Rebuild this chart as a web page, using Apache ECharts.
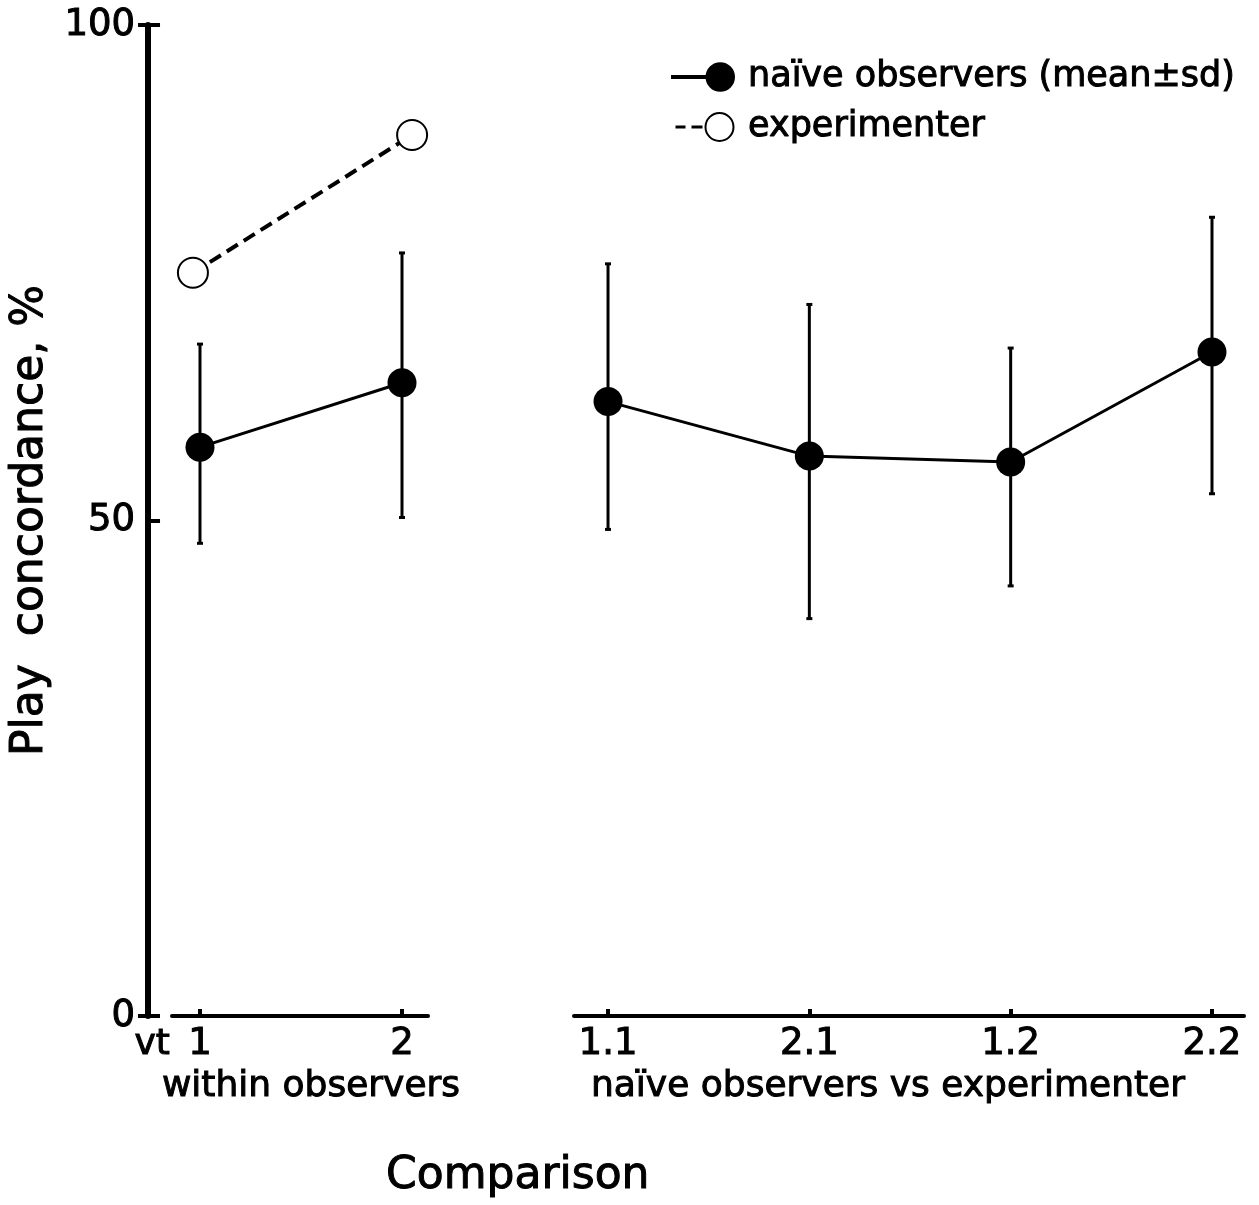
<!DOCTYPE html>
<html>
<head>
<meta charset="utf-8">
<script src="https://cdn.jsdelivr.net/npm/echarts@6/dist/echarts.min.js"></script>
<style>
html,body{margin:0;padding:0;background:#fff;}
#chart{width:1259px;height:1205px;}
</style>
</head>
<body>
<div id="chart"></div>
<script>
// ---- data ----
const yTicks = [0, 50, 100];
const withinLabels = ['1', '2'];
const withinX = [1, 2];
const withinMean = [57.4, 63.9];
const withinHi = [67.8, 77.0];
const withinLo = [47.7, 50.3];
const expX = [0.965, 2.05];
const expVal = [75.0, 88.9];
const vsLabels = ['1.1', '2.1', '1.2', '2.2'];
const vsX = [1, 2, 3, 4];
const vsMean = [62.0, 56.5, 55.9, 67.0];
const vsHi = [75.9, 71.8, 67.4, 80.6];
const vsLo = [49.1, 40.1, 43.4, 52.7];

const NAIVE = 'naïve observers (mean±sd)';
const EXP = 'experimenter';
const FONT = 'DejaVu Sans';
const HEAVY = {textBorderColor: '#000', textBorderWidth: 1};

const chart = echarts.init(document.getElementById('chart'), null, {renderer: 'canvas'});

function errData(xs, lo, hi) { return xs.map((x, i) => [x, lo[i], hi[i]]); }
function pairs(xs, ys) { return xs.map((x, i) => [x, ys[i]]); }

function errRender(params, api) {
  const x = api.value(0);
  const lo = api.coord([x, api.value(1)]);
  const hi = api.coord([x, api.value(2)]);
  const st = {stroke: '#000', lineWidth: 3};
  const c = 3;
  return {type: 'group', children: [
    {type: 'line', shape: {x1: lo[0], y1: lo[1], x2: hi[0], y2: hi[1]}, style: st},
    {type: 'line', shape: {x1: lo[0] - c, y1: lo[1], x2: lo[0] + c, y2: lo[1]}, style: st},
    {type: 'line', shape: {x1: hi[0] - c, y1: hi[1], x2: hi[0] + c, y2: hi[1]}, style: st}
  ]};
}

const iconNaive = 'path://M0 13 L38 13 L38 17 L0 17 Z M34 15 A14.5 14.5 0 1 1 63 15 A14.5 14.5 0 1 1 34 15 Z';
const iconExp = 'path://M4 13.5 L14 13.5 L14 16.5 L4 16.5 Z M20 13.5 L31 13.5 L31 16.5 L20 16.5 Z M33 15 A15 15 0 1 1 63 15 A15 15 0 1 1 33 15 Z M35 15 A13 13 0 1 0 61 15 A13 13 0 1 0 35 15 Z M0 0 L0.01 0 L0.01 0.01 Z';

const xLabelStyle = Object.assign({fontFamily: FONT, fontSize: 37, color: '#000', margin: 10}, HEAVY);

const option = {
  backgroundColor: '#fff',
  animation: false,
  title: {
    text: 'Comparison', left: 381, top: 1150,
    textStyle: Object.assign({fontFamily: FONT, fontSize: 44, fontWeight: 'normal', color: '#000'}, HEAVY)
  },
  legend: {
    orient: 'vertical', left: 666, top: 54,
    itemWidth: 64, itemHeight: 30, itemGap: 14,
    textStyle: Object.assign({fontFamily: FONT, fontSize: 35, color: '#000', padding: [0, 0, 0, 8]}, HEAVY),
    data: [
      {name: NAIVE, icon: iconNaive, itemStyle: {color: '#000', borderWidth: 0}},
      {name: EXP, icon: iconExp, itemStyle: {color: '#000', borderWidth: 0}}
    ]
  },
  graphic: [
    {type: 'text', left: 134, top: 1026,
     style: {text: 'vt', font: '36px "DejaVu Sans"', fill: '#000', stroke: '#000', lineWidth: 1}}
  ],
  grid: [
    {left: 147, right: 15, top: 25, bottom: 189},
    {left: 172, width: 256, top: 25, bottom: 189},
    {left: 574, width: 670, top: 25, bottom: 189}
  ],
  xAxis: [
    {gridIndex: 0, type: 'value', show: false, min: 0, max: 1},
    {gridIndex: 1, type: 'value', min: 0.8614, max: 2.1287,
     axisLine: {lineStyle: {color: '#000', width: 4}},
     axisTick: {inside: true, length: 7, lineStyle: {color: '#000', width: 4}, customValues: withinX},
     axisLabel: Object.assign({customValues: withinX, formatter: v => withinLabels[withinX.indexOf(v)]}, xLabelStyle),
     splitLine: {show: false},
     name: 'within observers', nameLocation: 'middle', nameGap: 46,
     nameTextStyle: Object.assign({fontFamily: FONT, fontSize: 36, color: '#000', padding: [0, 0, 0, 22]}, HEAVY)},
    {gridIndex: 2, type: 'value', min: 0.831, max: 4.159,
     axisLine: {lineStyle: {color: '#000', width: 4}},
     axisTick: {inside: true, length: 7, lineStyle: {color: '#000', width: 4}, customValues: vsX},
     axisLabel: Object.assign({customValues: vsX, formatter: v => vsLabels[vsX.indexOf(v)]}, xLabelStyle),
     splitLine: {show: false},
     name: 'naïve observers vs experimenter', nameLocation: 'middle', nameGap: 46,
     nameTextStyle: Object.assign({fontFamily: FONT, fontSize: 36, color: '#000', padding: [0, 42, 0, 0]}, HEAVY)}
  ],
  yAxis: [
    {gridIndex: 0, type: 'value', min: 0, max: 100, position: 'left', offset: 0,
     axisLine: {show: true, lineStyle: {color: '#000', width: 6}},
     axisTick: {show: true, inside: true, length: 12, lineStyle: {color: '#000', width: 4}, customValues: yTicks},
     axisLabel: Object.assign({customValues: yTicks, fontFamily: FONT, fontSize: 37, color: '#000', margin: 13}, HEAVY),
     splitLine: {show: false},
     name: 'Play  concordance, %', nameLocation: 'middle', nameGap: 94, nameRotate: 90,
     nameTextStyle: Object.assign({fontFamily: FONT, fontSize: 44, color: '#000'}, HEAVY)},
    {gridIndex: 0, type: 'value', min: 0, max: 100, position: 'left', offset: 0,
     axisLine: {show: false},
     axisTick: {show: true, inside: false, length: 10, lineStyle: {color: '#000', width: 4}, customValues: [yTicks[0], yTicks[2]]},
     axisLabel: {show: false}, splitLine: {show: false}},
    {gridIndex: 1, type: 'value', min: 0, max: 100, show: false},
    {gridIndex: 2, type: 'value', min: 0, max: 100, show: false}
  ],
  series: [
    {type: 'custom', name: 'sd-within', xAxisIndex: 1, yAxisIndex: 2, renderItem: errRender,
     data: errData(withinX, withinLo, withinHi), z: 2, silent: true},
    {type: 'custom', name: 'sd-vs', xAxisIndex: 2, yAxisIndex: 3, renderItem: errRender,
     data: errData(vsX, vsLo, vsHi), z: 2, silent: true},
    {type: 'line', name: NAIVE, xAxisIndex: 1, yAxisIndex: 2, data: pairs(withinX, withinMean),
     symbol: 'circle', symbolSize: 29, itemStyle: {color: '#000'},
     lineStyle: {color: '#000', width: 3}, z: 3},
    {type: 'line', name: NAIVE, xAxisIndex: 2, yAxisIndex: 3, data: pairs(vsX, vsMean),
     symbol: 'circle', symbolSize: 29, itemStyle: {color: '#000'},
     lineStyle: {color: '#000', width: 3}, z: 3},
    {type: 'line', name: EXP, xAxisIndex: 1, yAxisIndex: 2, data: pairs(expX, expVal),
     symbol: 'circle', symbolSize: 30, itemStyle: {color: '#fff', borderColor: '#000', borderWidth: 2},
     lineStyle: {color: '#000', width: 4, type: [13, 7]}, z: 3}
  ]
};
chart.setOption(option);
</script>
</body>
</html>
